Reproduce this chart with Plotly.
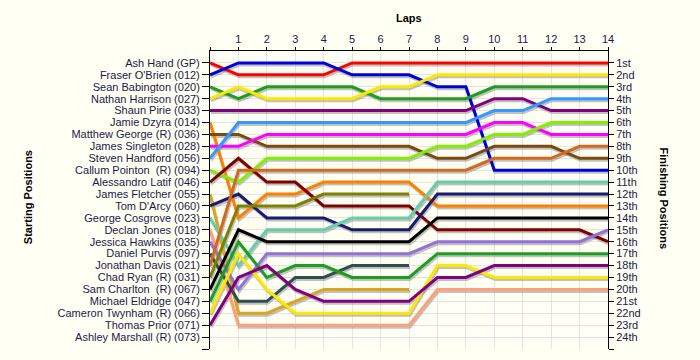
import plotly.graph_objects as go

laps = list(range(15))
lap_labels = [""] + [str(i) for i in range(1, 15)]

drivers = [
    "Ash Hand (GP)", "Fraser O'Brien (012)", "Sean Babington (020)", "Nathan Harrison (027)",
    "Shaun Pirie (033)", "Jamie Dzyra (014)", "Matthew George (R) (036)", "James Singleton (028)",
    "Steven Handford (056)", "Callum Pointon  (R) (094)", "Alessandro Latif (046)", "James Fletcher (055)",
    "Tom D'Arcy (060)", "George Cosgrove (023)", "Declan Jones (018)", "Jessica Hawkins (035)",
    "Daniel Purvis (097)", "Jonathan Davis (021)", "Chad Ryan (R) (031)", "Sam Charlton  (R) (067)",
    "Michael Eldridge (047)", "Cameron Twynham (R) (066)", "Thomas Prior (071)", "Ashley Marshall (R) (073)",
]

finish_labels = ["1st", "2nd", "3rd", "4th", "5th", "6th", "7th", "8th", "9th", "10th",
                 "11th", "12th", "13th", "14th", "15th", "16th", "17th", "18th", "19th", "20th",
                 "21st", "22nd", "23rd", "24th"]

# position of each driver at the end of each lap (index 0 = grid)
ash_hand        = [1, 2, 2, 2, 2, 1, 1, 1, 1, 1, 1, 1, 1, 1, 1]
fraser_obrien   = [2, 1, 1, 1, 1, 2, 2, 2, 3, 3, 10, 10, 10, 10, 10]
sean_babington  = [3, 4, 3, 3, 3, 3, 4, 4, 4, 4, 3, 3, 3, 3, 3]
nathan_harrison = [4, 3, 4, 4, 4, 4, 3, 3, 2, 2, 2, 2, 2, 2, 2]
shaun_pirie     = [5, 5, 5, 5, 5, 5, 5, 5, 5, 5, 4, 4, 5, 5, 5]
jamie_dzyra     = [6, 14, 12, 12, 11, 11, 11, 11, 13, 13, 13, 13, 13, 13, 13]
matthew_george  = [7, 7, 8, 8, 8, 8, 8, 8, 9, 9, 8, 8, 8, 9, 9]
james_singleton = [8, 8, 7, 7, 7, 7, 7, 7, 7, 7, 6, 6, 7, 7, 7]
steven_handford = [9, 6, 6, 6, 6, 6, 6, 6, 6, 6, 5, 5, 4, 4, 4]
callum_pointon  = [10, 11, 9, 9, 9, 9, 9, 9, 8, 8, 7, 7, 6, 6, 6]
alessandro_latif = [11, 9, 11, 11, 13, 13, 13, 13, 15, 15, 15, 15, 15, 15, 16]
james_fletcher  = [12, 22, 22, 21, 20, 20, 20, 20]
tom_darcy       = [13, 12, 14, 14, 14, 15, 15, 15, 12, 12, 12, 12, 12, 12, 12]
george_cosgrove = [14, 18, 15, 15, 15, 14, 14, 14, 11, 11, 11, 11, 11, 11, 11]
declan_jones    = [15, 23, 23, 23, 23, 23, 23, 23, 20, 20, 20, 20, 20, 20, 20]
jessica_hawkins = [16, 20, 17, 17, 17, 17, 17, 17, 16, 16, 16, 16, 16, 16, 15]
daniel_purvis   = [17, 21, 21, 19, 19, 18, 18, 18]
jonathan_davis  = [18, 10, 10, 10, 10, 10, 10, 10, 10, 10, 9, 9, 9, 8, 8]
chad_ryan       = [19, 13, 13, 13, 12, 12, 12, 12]
sam_charlton    = [20, 15, 16, 16, 16, 16, 16, 16, 14, 14, 14, 14, 14, 14, 14]
michael_eldridge = [21, 16, 19, 18, 18, 19, 19, 19, 17, 17, 17, 17, 17, 17, 17]
cameron_twynham = [22, 17, 20, 22, 22, 22, 22, 22, 18, 18, 19, 19, 19, 19, 19]
thomas_prior    = [23, 19, 18, 20, 21, 21, 21, 21, 19, 19, 18, 18, 18, 18, 18]
ashley_marshall = []

series = [ash_hand, fraser_obrien, sean_babington, nathan_harrison, shaun_pirie, jamie_dzyra,
          matthew_george, james_singleton, steven_handford, callum_pointon, alessandro_latif,
          james_fletcher, tom_darcy, george_cosgrove, declan_jones, jessica_hawkins, daniel_purvis,
          jonathan_davis, chad_ryan, sam_charlton, michael_eldridge, cameron_twynham, thomas_prior,
          ashley_marshall]

colors = ["#FF0000", "#0000DD", "#1E9E1E", "#FFE800", "#800080", "#FF8000",
          "#7B4A12", "#FF00FF", "#3399FF", "#80F000", "#800000",
          "#DAA520", "#1A1A70", "#66CDAA", "#FFA07A", "#9370DB", "#2F4F4F",
          "#D2691E", "#808000", "#000000", "#1E9E1E", "#FFE800", "#800080",
          "#888888"]

fig = go.Figure()

# shadows (offset derived from pixel scale: ~1px right, ~2px down)
dx = 1.0 / 28.4
dy = 2.0 / 11.92
for vals in series:
    if not vals:
        continue
    fig.add_trace(go.Scatter(
        x=[l + dx for l in laps[:len(vals)]], y=[v + dy for v in vals],
        mode="lines", line=dict(color="rgba(120,120,120,0.45)", width=3),
        hoverinfo="skip", showlegend=False))

for name, vals, col in zip(drivers, series, colors):
    if not vals:
        continue
    fig.add_trace(go.Scatter(
        x=laps[:len(vals)], y=vals, mode="lines", name=name,
        line=dict(color=col, width=3), showlegend=False))

# helper trace for right axis
fig.add_trace(go.Scatter(x=[0], y=[1], yaxis="y2", mode="lines",
                         line=dict(width=0), opacity=0, hoverinfo="skip", showlegend=False))

tick_font = dict(family="Liberation Sans, Arial, sans-serif", size=11, color="#1A1A4A")
pos_vals = list(range(1, 26))

fig.update_layout(
    width=700, height=360,
    margin=dict(l=210, r=92, t=51, b=11),
    paper_bgcolor="#FFFFF4", plot_bgcolor="#FFFFF4",
    showlegend=False,
    xaxis=dict(side="top", range=[0, 14], tickvals=laps, ticktext=lap_labels,
               ticks="outside", ticklen=3, tickcolor="black", showline=True, linecolor="black",
               linewidth=1, showgrid=True, gridcolor="#E4E4E4", gridwidth=1, zeroline=False,
               tickfont=tick_font, automargin=False, fixedrange=True),
    yaxis=dict(range=[25, 0], tickvals=pos_vals, ticktext=drivers[:24] + [""],
               ticks="outside", ticklen=7, tickcolor="black", showline=True, linecolor="black",
               linewidth=1, showgrid=True, gridcolor="#E4E4E4", gridwidth=1, zeroline=False,
               tickfont=tick_font, automargin=False),
    yaxis2=dict(overlaying="y", side="right", range=[25, 0], tickvals=pos_vals,
                ticktext=finish_labels + [""], ticks="outside", ticklen=5, tickcolor="black",
                showline=True, linecolor="black", linewidth=1, showgrid=False, zeroline=False,
                tickfont=tick_font, automargin=False),
    annotations=[
        dict(text="<b>Laps</b>", xref="paper", yref="paper", x=0.5, y=1.111,
             xanchor="center", yanchor="middle", showarrow=False,
             font=dict(family="Liberation Sans, Arial, sans-serif", size=11, color="black")),
        dict(text="<b>Starting Positions</b>", xref="paper", yref="paper", x=-0.457, y=0.51,
             xanchor="center", yanchor="middle", showarrow=False, textangle=-90,
             font=dict(family="Liberation Sans, Arial, sans-serif", size=11, color="black")),
        dict(text="<b>Finishing Positions</b>", xref="paper", yref="paper", x=1.143, y=0.505,
             xanchor="center", yanchor="middle", showarrow=False, textangle=90,
             font=dict(family="Liberation Sans, Arial, sans-serif", size=11, color="black")),
    ],
)

fig.write_html("out.html", config={"displayModeBar": False},
               post_script="document.body.style.margin='0';document.body.style.background='#FFFFF4';")
